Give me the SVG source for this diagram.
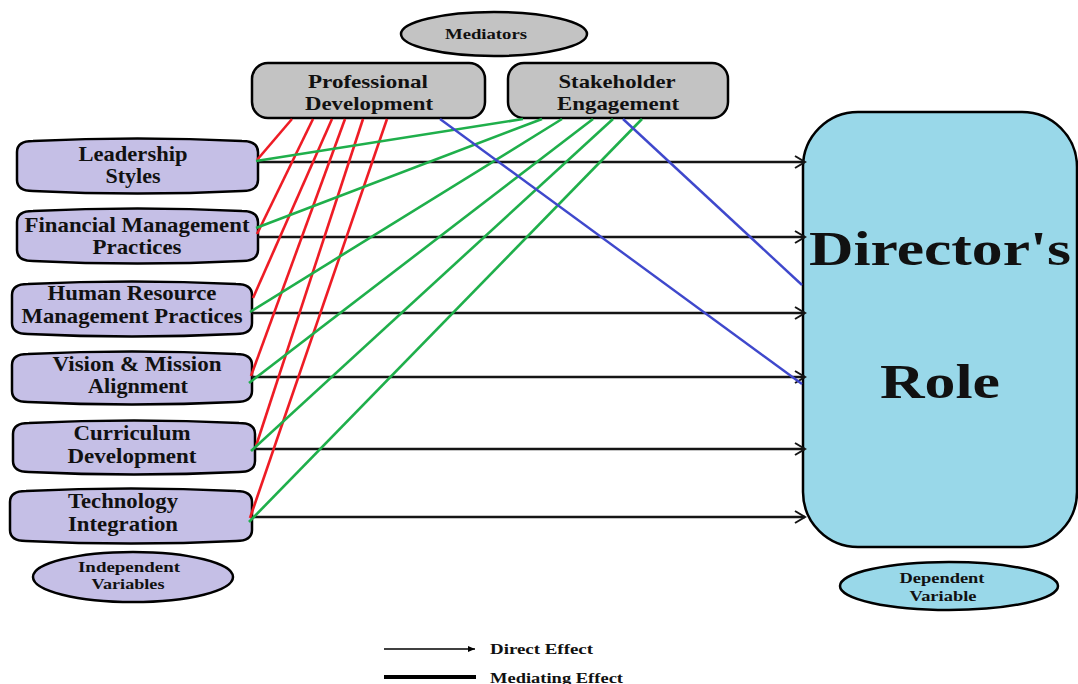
<svg xmlns="http://www.w3.org/2000/svg" width="1078" height="684" viewBox="0 0 1078 684">
<style>
  text { font-family: "Liberation Serif", "Times New Roman", serif; font-weight: bold; fill: #111; text-anchor: middle; }
  .iv { fill: #C5BFE6; stroke: #000; stroke-width: 2.5; }
  .med { fill: #C3C3C3; stroke: #000; stroke-width: 2.5; }
  .dv { fill: #99D8E9; stroke: #000; stroke-width: 2.5; }
  .t21 { font-size: 21px; }
  .t18 { font-size: 19px; }
  .t15 { font-size: 15px; }
  .direct { stroke: #151515; stroke-width: 2.4; fill: none; marker-end: url(#chev); }
  .red { stroke: #EE1C25; stroke-width: 2.6; }
  .green { stroke: #1FAF4B; stroke-width: 2.6; }
  .blue { stroke: #3F48CC; stroke-width: 2.4; }
</style>
<defs>
  <marker id="chev" markerUnits="userSpaceOnUse" markerWidth="14" markerHeight="16" refX="11" refY="7" orient="auto">
    <path d="M1,1 L11,7 L1,13" fill="none" stroke="#151515" stroke-width="2"/>
  </marker>
  <marker id="tri" markerUnits="userSpaceOnUse" markerWidth="8" markerHeight="8" refX="7" refY="3" orient="auto">
    <path d="M0,0 L7,3 L0,6 Z" fill="#000"/>
  </marker>
</defs>
<rect width="1078" height="684" fill="#fff"/>

<g id="mediators-label">
  <ellipse cx="494" cy="34" rx="93" ry="22" class="med"/>
  <text x="486" y="39" class="t15" textLength="82" lengthAdjust="spacingAndGlyphs">Mediators</text>
</g>
<g id="professional-development">
  <rect x="252" y="63" width="233" height="55" rx="16" class="med"/>
  <text x="368" y="88" class="t18" textLength="120" lengthAdjust="spacingAndGlyphs">Professional</text>
  <text x="369" y="110" class="t18" textLength="128" lengthAdjust="spacingAndGlyphs">Development</text>
</g>
<g id="stakeholder-engagement">
  <rect x="508" y="63" width="220" height="55" rx="16" class="med"/>
  <text x="617" y="88" class="t18" textLength="117" lengthAdjust="spacingAndGlyphs">Stakeholder</text>
  <text x="618" y="110" class="t18" textLength="122" lengthAdjust="spacingAndGlyphs">Engagement</text>
</g>

<g id="leadership-styles">
  <path class="iv" d="M17,152 Q17,141 33,141 Q137.5,136 242,141 Q258,141 258,152 L258,180 Q258,191 242,191 Q137.5,196 33,191 Q17,191 17,180 Z"/>
  <text x="133" y="161" class="t21" textLength="109" lengthAdjust="spacingAndGlyphs">Leadership</text>
  <text x="133" y="183" class="t21" textLength="55" lengthAdjust="spacingAndGlyphs">Styles</text>
</g>
<g id="financial-management">
  <path class="iv" d="M17,222 Q17,211 33,211 Q137.5,206 242,211 Q258,211 258,222 L258,250 Q258,261 242,261 Q137.5,266 33,261 Q17,261 17,250 Z"/>
  <text x="137" y="232" class="t21" textLength="225" lengthAdjust="spacingAndGlyphs">Financial Management</text>
  <text x="137" y="254" class="t21" textLength="89" lengthAdjust="spacingAndGlyphs">Practices</text>
</g>
<g id="human-resource">
  <path class="iv" d="M12,295 Q12,284 28,284 Q132,279 236,284 Q252,284 252,295 L252,323 Q252,334 236,334 Q132,339 28,334 Q12,334 12,323 Z"/>
  <text x="132" y="300" class="t21" textLength="169" lengthAdjust="spacingAndGlyphs">Human Resource</text>
  <text x="132" y="323" class="t21" textLength="221" lengthAdjust="spacingAndGlyphs">Management Practices</text>
</g>
<g id="vision-mission">
  <path class="iv" d="M12,365 Q12,354 28,354 Q132,349 236,354 Q252,354 252,365 L252,391 Q252,402 236,402 Q132,407 28,402 Q12,402 12,391 Z"/>
  <text x="137" y="371" class="t21" textLength="169" lengthAdjust="spacingAndGlyphs">Vision &amp; Mission</text>
  <text x="138" y="393" class="t21" textLength="100" lengthAdjust="spacingAndGlyphs">Alignment</text>
</g>
<g id="curriculum-development">
  <path class="iv" d="M13,434 Q13,423 29,423 Q134,418 239,423 Q255,423 255,434 L255,461 Q255,472 239,472 Q134,477 29,472 Q13,472 13,461 Z"/>
  <text x="132" y="440" class="t21" textLength="117" lengthAdjust="spacingAndGlyphs">Curriculum</text>
  <text x="132" y="463" class="t21" textLength="129" lengthAdjust="spacingAndGlyphs">Development</text>
</g>
<g id="technology-integration">
  <path class="iv" d="M10,502 Q10,491 26,491 Q131,486 236,491 Q252,491 252,502 L252,530 Q252,541 236,541 Q131,546 26,541 Q10,541 10,530 Z"/>
  <text x="123" y="508" class="t21" textLength="110" lengthAdjust="spacingAndGlyphs">Technology</text>
  <text x="123" y="531" class="t21" textLength="110" lengthAdjust="spacingAndGlyphs">Integration</text>
</g>
<g id="independent-variables">
  <ellipse cx="133" cy="577" rx="100" ry="25" class="iv"/>
  <text x="129" y="572" class="t15" textLength="102" lengthAdjust="spacingAndGlyphs">Independent</text>
  <text x="128" y="589" class="t15" textLength="73" lengthAdjust="spacingAndGlyphs">Variables</text>
</g>

<g id="directors-role">
  <rect x="803" y="112" width="274" height="435" rx="55" class="dv"/>
  <text x="940" y="265" style="font-size:48px" textLength="262" lengthAdjust="spacingAndGlyphs">Director's</text>
  <text x="940" y="398" style="font-size:48px" textLength="120" lengthAdjust="spacingAndGlyphs">Role</text>
</g>
<g id="dependent-variable">
  <ellipse cx="949" cy="586" rx="109" ry="24" class="dv"/>
  <text x="942" y="583" class="t15" textLength="85" lengthAdjust="spacingAndGlyphs">Dependent</text>
  <text x="943" y="601" class="t15" textLength="67" lengthAdjust="spacingAndGlyphs">Variable</text>
</g>

<g id="connectors">
  <line class="direct" x1="258" y1="162" x2="805" y2="162"/>
  <line class="direct" x1="258" y1="237" x2="805" y2="237"/>
  <line class="direct" x1="252" y1="313" x2="805" y2="313"/>
  <line class="direct" x1="252" y1="377" x2="805" y2="377"/>
  <line class="direct" x1="255" y1="449" x2="805" y2="449"/>
  <line class="direct" x1="252" y1="517" x2="805" y2="517"/>

  <line class="red" x1="292" y1="119" x2="257" y2="160"/>
  <line class="red" x1="313" y1="119" x2="257" y2="234"/>
  <line class="red" x1="332" y1="119" x2="253" y2="298"/>
  <line class="red" x1="345" y1="119" x2="251" y2="376"/>
  <line class="red" x1="363" y1="119" x2="256" y2="446"/>
  <line class="red" x1="387" y1="119" x2="250" y2="518"/>

  <line class="green" x1="523" y1="119" x2="256" y2="161"/>
  <line class="green" x1="542" y1="119" x2="256" y2="228"/>
  <line class="green" x1="562" y1="119" x2="250" y2="312"/>
  <line class="green" x1="593" y1="119" x2="249" y2="383"/>
  <line class="green" x1="613" y1="119" x2="251" y2="451"/>
  <line class="green" x1="642" y1="119" x2="249" y2="522"/>

  <line class="blue" x1="440" y1="119" x2="802" y2="384"/>
  <line class="blue" x1="623" y1="119" x2="802" y2="285"/>
</g>

<g id="legend">
  <line x1="384" y1="649" x2="475" y2="649" stroke="#000" stroke-width="1.5" marker-end="url(#tri)"/>
  <text x="490" y="654" class="t15" style="text-anchor:start" textLength="103" lengthAdjust="spacingAndGlyphs">Direct Effect</text>
  <line x1="384" y1="677" x2="476" y2="677" stroke="#000" stroke-width="4"/>
  <text x="490" y="683" class="t15" style="text-anchor:start" textLength="133" lengthAdjust="spacingAndGlyphs">Mediating Effect</text>
</g>
</svg>
